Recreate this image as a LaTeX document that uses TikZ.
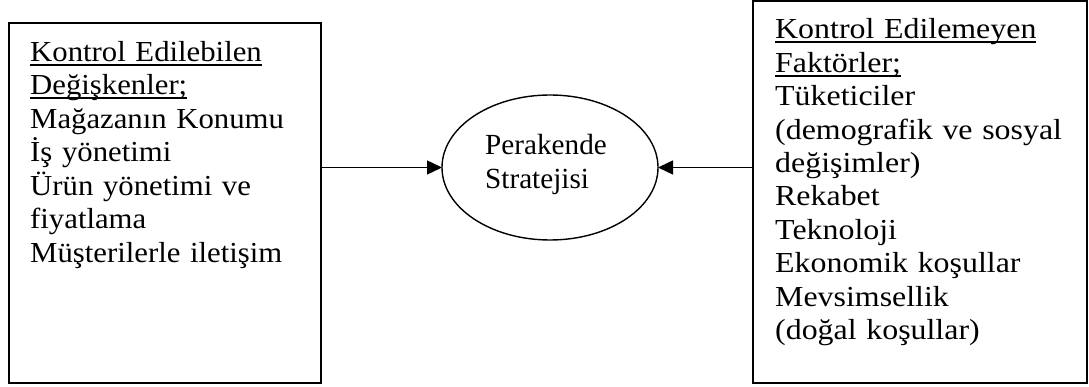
\documentclass[tikz,border=0pt]{standalone}
\usepackage{fontspec}
\setmainfont{Liberation Serif}
\newfontfamily\leftfont[FakeStretch=1.06]{Liberation Serif}
\newfontfamily\widefont[FakeStretch=1.1]{Liberation Serif}
\usetikzlibrary{shapes.geometric,arrows.meta}

% underline with a fixed offset below the baseline
\newcommand\mkul[1]{\leavevmode\setbox0\hbox{#1}\rlap{\rule[-4.2pt]{\wd0}{1.9pt}}\box0}

\begin{document}
\begin{tikzpicture}[x=1pt,y=-1pt,
  panel/.style={draw, line width=2pt, rectangle, inner sep=0pt, outer sep=0pt},
  oval/.style={draw, line width=1.4pt, ellipse, inner sep=0pt, outer sep=0pt,
    minimum width=216pt, minimum height=145pt},
  txt/.style={anchor=base west, inner sep=0pt, align=left, text width=#1},
  conn/.style={line width=1.4pt, -{Triangle[length=15pt,width=14pt]}}]
  \useasboundingbox (0,0) rectangle (1089,387);

  % boxes and the central ellipse
  \node[panel, minimum width=312pt, minimum height=360pt] (lbox) at (165,203) {};
  \node[panel, minimum width=334pt, minimum height=382pt] (rbox) at (920,192) {};
  \node[oval] (strat) at (550,167.5) {};

  % box contents
  \node[txt=290pt, font=\leftfont\fontsize{29}{33.5}\selectfont] (ltext) at (30,61.5)
    {\mkul{Kontrol Edilebilen}\\
     \mkul{Değişkenler;}\\
     Mağazanın Konumu\\
     İş yönetimi\\
     Ürün yönetimi ve\\
     fiyatlama\\
     Müşterilerle iletişim};
  \node[txt=310pt, font=\widefont\fontsize{29}{33.4}\selectfont] (rtext) at (775,39)
    {\mkul{Kontrol Edilemeyen}\\
     \mkul{Faktörler;}\\
     Tüketiciler\\
     (demografik ve sosyal\\
     değişimler)\\
     Rekabet\\
     Teknoloji\\
     Ekonomik koşullar\\
     Mevsimsellik\\
     (doğal koşullar)};
  \node[txt=150pt, font=\fontsize{29.2}{34}\selectfont] (stext) at (485,155)
    {Perakende\\Stratejisi};

  % connectors into the ellipse
  \draw[conn] (lbox.east |- strat.west) -- (strat.west);
  \draw[conn] (rbox.west |- strat.east) -- (strat.east);
\end{tikzpicture}
\end{document}
